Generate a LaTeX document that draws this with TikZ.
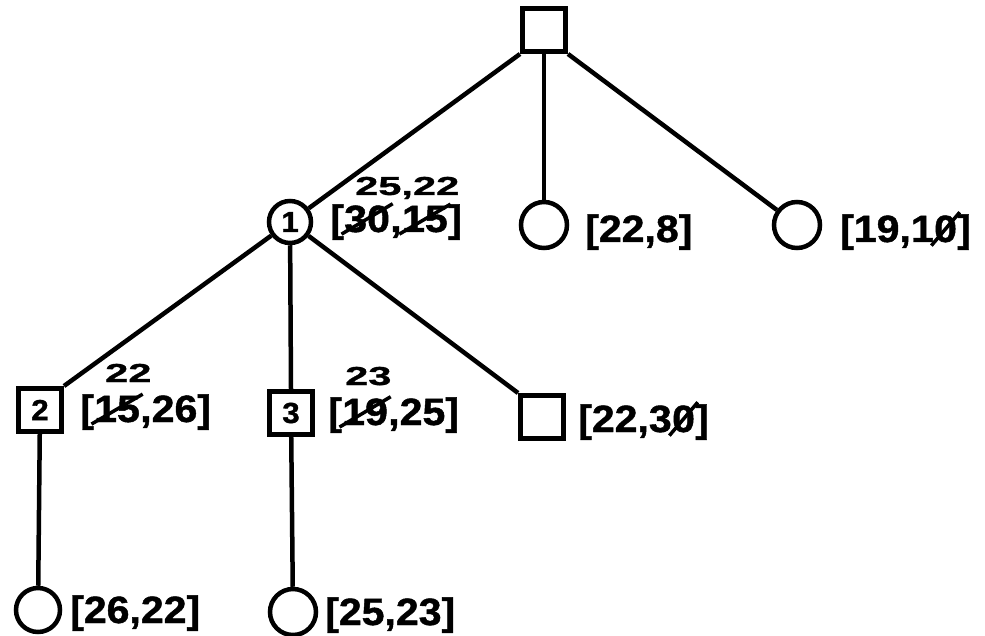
\documentclass[tikz,border=0pt]{standalone}
\usepackage{fontspec}
\newfontfamily\hwfont[FakeStretch=1.08,FakeBold=1.2]{Liberation Sans}
\newfontfamily\hwsmall[FakeStretch=1.6,FakeBold=1.2]{Liberation Sans}
\tikzset{
  edge/.style={line width=4.5pt},
  sq/.style={draw, line width=5pt, minimum size=43pt, inner sep=0pt,
    font=\hwfont\bfseries\fontsize{29}{29}\selectfont},
  cir/.style={draw, circle, line width=4.5pt, minimum size=46pt, inner sep=0pt,
    font=\hwfont\bfseries\fontsize{29}{29}\selectfont},
  lbl/.style={inner sep=0pt, anchor=base west,
    font=\hwfont\bfseries\fontsize{38}{40}\selectfont},
  ann/.style={inner sep=0pt, anchor=base west,
    font=\hwsmall\bfseries\fontsize{26}{28}\selectfont},
  strike/.style={line width=3.5pt, shorten <=-3pt, shorten >=-3pt},
  zslash/.style={line width=3.5pt, shorten <=-4pt, shorten >=-4pt}
}
\begin{document}
\begin{tikzpicture}[x=1pt,y=-1pt]
\useasboundingbox (0,0) rectangle (985,636);
% nodes
\node[sq] (root) at (544,30) {};
\node[cir, minimum size=42pt] (c1) at (290,222) {1};
\node[cir] (c2) at (544,225) {};
\node[cir] (c3) at (797,225) {};
\node[sq] (s2) at (40,410) {2};
\node[sq] (s3) at (291,413) {3};
\node[sq] (s4) at (542,417) {};
\node[cir, minimum size=44pt] (b1) at (38,610) {};
\node[cir] (b2) at (293,612) {};
% edges
\draw[edge] (root.south west) -- (c1);
\draw[edge] (root.south) -- (c2);
\draw[edge] (root.south east) -- (c3);
\draw[edge] (c1) -- (s2.north east);
\draw[edge] (c1) -- (s3.north);
\draw[edge] (c1) -- (s4.north west);
\draw[edge] (s2) -- (b1);
\draw[edge] (s3) -- (b2);
% labels of node 1
\node[ann] (n1) at (355,195) {25,22};
\node[lbl] (l1a) at (330,232) {[};
\node[lbl] (l1b) at (l1a.base east) {30};
\node[lbl] (l1c) at (l1b.base east) {,};
\node[lbl] (l1d) at (l1c.base east) {15};
\node[lbl] (l1e) at (l1d.base east) {]};
\draw[strike] (l1b.south west) -- (l1b.north east);
\draw[strike] (l1d.south west) -- (l1d.north east);
% labels of the other top circles
\node[lbl] (l2) at (585,242) {[22,8]};
\node[lbl] (l3a) at (840,242) {[19,1};
\node[lbl] (l3b) at (l3a.base east) {0};
\node[lbl] (l3c) at (l3b.base east) {]};
\draw[zslash] (l3b.south west) -- (l3b.north east);
% labels of square 2
\node[ann] (n2) at (105,382) {22};
\node[lbl] (l4a) at (80,422) {[};
\node[lbl] (l4b) at (l4a.base east) {15};
\node[lbl] (l4c) at (l4b.base east) {,26]};
\draw[strike] (l4b.south west) -- (l4b.north east);
% labels of square 3
\node[ann] (n3) at (345,385) {23};
\node[lbl] (l5a) at (328,425) {[};
\node[lbl] (l5b) at (l5a.base east) {19};
\node[lbl] (l5c) at (l5b.base east) {,25]};
\draw[strike] (l5b.south west) -- (l5b.north east);
% label of square 4
\node[lbl] (l6a) at (578,432) {[22,3};
\node[lbl] (l6b) at (l6a.base east) {0};
\node[lbl] (l6c) at (l6b.base east) {]};
\draw[zslash] (l6b.south west) -- (l6b.north east);
% labels of bottom circles
\node[lbl] (l7) at (70,623) {[26,22]};
\node[lbl] (l8) at (325,625) {[25,23]};
\end{tikzpicture}
\end{document}
